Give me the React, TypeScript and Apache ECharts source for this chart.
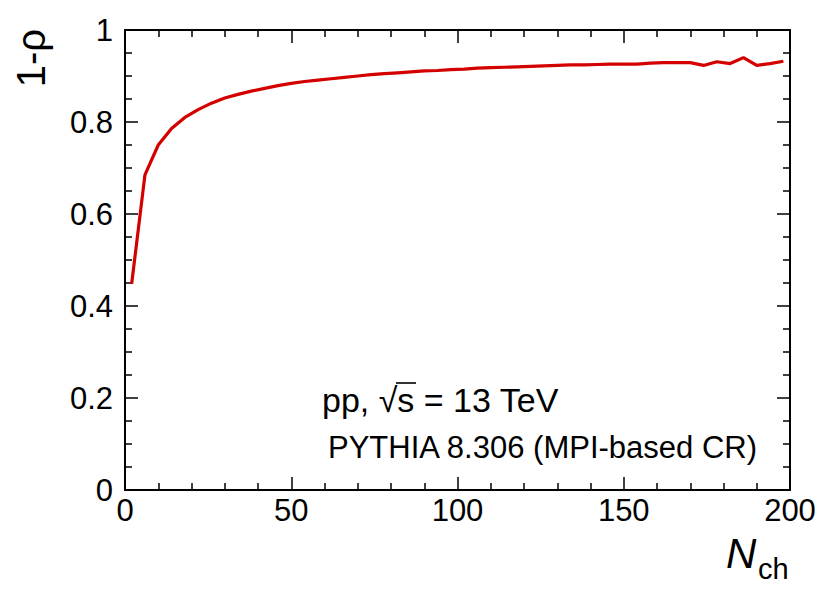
import React, { useEffect, useRef } from "react";
import * as echarts from "echarts";

const nch: number[] = [
  2, 6, 10, 14, 18, 22, 26, 30, 34, 38, 42, 46, 50, 54, 58, 62, 66, 70, 74, 78,
  82, 86, 90, 94, 98, 102, 106, 110, 114, 118, 122, 126, 130, 134, 138, 142, 146,
  150, 154, 158, 162, 166, 170, 174, 178, 182, 186, 190, 194, 198,
];
const oneMinusRho: number[] = [
  0.448, 0.685, 0.75, 0.786, 0.81, 0.827, 0.841, 0.852, 0.86, 0.867, 0.873,
  0.879, 0.884, 0.888, 0.891, 0.894, 0.897, 0.9, 0.903, 0.905, 0.907, 0.909,
  0.911, 0.912, 0.914, 0.915, 0.917, 0.918, 0.919, 0.92, 0.921, 0.922, 0.923,
  0.924, 0.924, 0.925, 0.926, 0.926, 0.926, 0.928, 0.929, 0.929, 0.929, 0.923,
  0.931, 0.927, 0.94, 0.923, 0.927, 0.932,
];
const xTicks = { min: 0, max: 200, interval: 50 };
const yTicks = { min: 0, max: 1, interval: 0.2 };
const yTitle = "1-ρ";
const xTitleMain = "N";
const xTitleSub = "ch";
const line1 = "pp, √s = 13 TeV";
const line2 = "PYTHIA 8.306 (MPI-based CR)";

const FONT = "'Liberation Sans', Arial, Helvetica, sans-serif";

export default function App() {
  const ref = useRef<HTMLDivElement>(null);
  useEffect(() => {
    if (!ref.current) return;
    const chart = echarts.init(ref.current, null, { renderer: "svg" });
    const tickCommon = {
      axisLine: { show: true, onZero: false, lineStyle: { color: "#000", width: 2 } },
      splitLine: { show: false },
    };
    const xBase = (showLabels: boolean, pos: "top" | "bottom") => ({
      type: "value",
      position: pos,
      min: xTicks.min,
      max: xTicks.max,
      interval: xTicks.interval,
      ...tickCommon,
      axisTick: { show: true, inside: true, length: 13, lineStyle: { color: "#000", width: 1.5 } },
      minorTick: { show: true, splitNumber: 5, length: 7, lineStyle: { color: "#000", width: 1.5 } },
      minorSplitLine: { show: false },
      axisLabel: showLabels
        ? { show: true, fontFamily: FONT, fontSize: 31, color: "#000", margin: 5 }
        : { show: false },
    });
    const yBase = (showLabels: boolean, pos: "left" | "right") => ({
      type: "value",
      position: pos,
      min: yTicks.min,
      max: yTicks.max,
      interval: yTicks.interval,
      ...tickCommon,
      axisTick: { show: true, inside: true, length: 13, lineStyle: { color: "#000", width: 1.5 } },
      minorTick: { show: true, splitNumber: 4, length: 7, lineStyle: { color: "#000", width: 1.5 } },
      minorSplitLine: { show: false },
      axisLabel: showLabels
        ? { show: true, fontFamily: FONT, fontSize: 31, color: "#000", margin: 12 }
        : { show: false },
    });
    const txt = (text: string, x: number, y: number, size: number, extra: any = {}) => ({
      type: "text",
      x,
      y,
      silent: true,
      ...extra,
      style: {
        text,
        font: `${extra.italic ? "italic " : ""}${size}px ${FONT}`,
        fill: "#000",
        textAlign: extra.align || "left",
        align: extra.align || "left",
        textVerticalAlign: extra.va || "middle",
        verticalAlign: extra.va || "middle",
      },
    });
    chart.setOption({
      animation: false,
      backgroundColor: "#fff",
      grid: { left: 125, right: 40, top: 30, bottom: 100, containLabel: false },
      xAxis: [xBase(true, "bottom"), xBase(false, "top")],
      yAxis: [yBase(true, "left"), yBase(false, "right")],
      series: [
        {
          type: "line",
          xAxisIndex: 0,
          yAxisIndex: 0,
          data: nch.map((n, i) => [n, oneMinusRho[i]]),
          showSymbol: false,
          symbol: "none",
          lineStyle: { color: "#d40000", width: 3.2 },
          z: 3,
        },
      ],
      graphic: [
        { ...txt(yTitle, 31, 29, 40, { align: "right" }), rotation: Math.PI / 2 },
        txt(xTitleMain, 726, 553, 42, { italic: true }),
        txt(xTitleSub, 758, 569, 29),
        txt(line1, 322, 400, 34),
        {
          type: "line",
          silent: true,
          shape: { x1: 396, y1: 383, x2: 416, y2: 383 },
          style: { stroke: "#000", lineWidth: 1.6 },
        },
        txt(line2, 328, 447, 31),
      ],
    });
    return () => chart.dispose();
  }, []);
  return (
    <div
      ref={ref}
      style={{ position: "fixed", left: 0, top: 0, width: 830, height: 590, background: "#fff" }}
    />
  );
}
